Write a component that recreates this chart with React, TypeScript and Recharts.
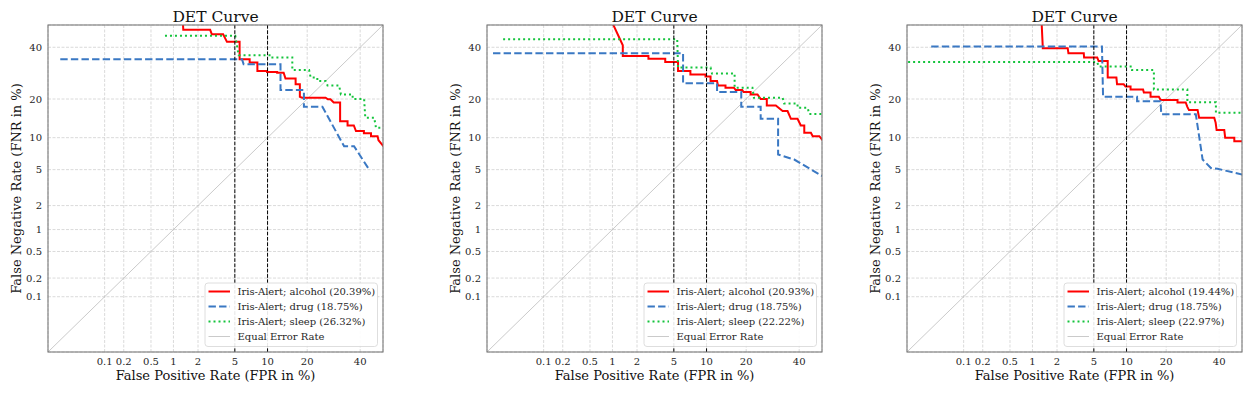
import { LineChart, Line, XAxis, YAxis, CartesianGrid, ReferenceLine } from 'recharts';

// percent values (probit axes)
const TICKS = [0.1, 0.2, 0.5, 1, 2, 5, 10, 20, 40];
const TICK_LABELS = ['0.1', '0.2', '0.5', '1', '2', '5', '10', '20', '40'];
const AXIS_RANGE = [0.01, 50];
const THRESHOLDS = [5, 10];

const SERIES_NAMES = ['Iris-Alert; alcohol', 'Iris-Alert; drug', 'Iris-Alert; sleep'];
const EER_ALCOHOL = [20.39, 20.93, 19.44];
const EER_DRUG = [18.75, 18.75, 18.75];
const EER_SLEEP = [26.32, 22.22, 22.97];

// [FPR %, FNR %]
const alcohol1: [number, number][] = [
  [1.3, 55], [1.33, 47.8], [2.75, 47.8], [2.87, 45.8], [3.8, 45.8], [4.16, 42.4], [5.57, 42.4],
  [5.57, 34.8], [6.94, 34.8], [6.94, 33.5], [8.16, 33.5], [8.16, 30.0], [9.9, 30.0], [9.9, 29.6],
  [12.0, 29.6], [12.0, 29.4], [13.5, 29.4], [13.95, 27.1], [16.6, 27.1], [16.6, 25.0], [17.8, 25.0],
  [17.8, 20.7], [18.5, 20.4], [26.2, 20.4], [27, 19.9], [28, 19.9], [29.2, 18.9], [31.7, 18.9],
  [31.7, 13.7], [34.7, 13.7], [34.7, 12.65], [37.3, 12.65], [38.2, 11.4], [41.6, 11.4], [41.6, 10.9],
  [44.7, 10.9], [44.7, 10.3], [47.6, 10.3], [48, 9.5], [50.6, 8.2],
];
const drug1: [number, number][] = [
  [0.017, 34.8], [5.88, 34.8], [6.09, 32.75], [12.76, 32.75], [12.76, 22.96], [19.0, 22.96],
  [19.0, 17.6], [25.06, 17.6], [33.3, 8.4], [37.4, 8.4], [43.9, 5.0],
];
const sleep1: [number, number][] = [
  [0.775, 45.1], [5.05, 45.1], [5.45, 36.5], [10.6, 36.5], [10.6, 35.6], [15.7, 35.6], [15.7, 30.4],
  [20.6, 30.4], [21.1, 27.5], [23.3, 27.5], [23.3, 26.2], [26.2, 26.2], [26.9, 24.6], [31.3, 24.6],
  [32.0, 21.5], [36.8, 21.5], [36.8, 20.0], [41.7, 20.0], [42.2, 14.6], [46.1, 14.6], [46.9, 12.1],
  [50, 12.1],
];

const alcohol2: [number, number][] = [
  [0.91, 54], [1.35, 40.9], [1.35, 36.2], [2.7, 36.2], [2.7, 35.1], [4.09, 35.1], [4.09, 33.7],
  [5.5, 33.7], [5.5, 30.0], [7.2, 30.0], [7.2, 28.7], [9.8, 28.7], [9.8, 27.9], [10.8, 27.9],
  [10.8, 26.2], [12.2, 26.2], [12.4, 24.6], [14.2, 24.6], [14.2, 23.8], [16.4, 23.8], [16.9, 22.96],
  [18.8, 22.96], [19.2, 22.3], [21.4, 22.3], [21.4, 21.5], [23.7, 21.5], [24.8, 20.0], [27.0, 20.0],
  [27.0, 18.0], [30.4, 18.0], [33.1, 16.4], [35.1, 16.4], [36.5, 14.3], [39.3, 14.3], [40.7, 12.65],
  [42.2, 12.65], [42.2, 11.0], [45.1, 11.0], [45.9, 10.3], [48.8, 10.3], [50.3, 9.5],
];
const drug2: [number, number][] = [
  [0.013, 37.4], [6.15, 37.4], [6.15, 25.35], [12.2, 25.35], [12.2, 22.3], [18.5, 22.3], [18.5, 17.6],
  [24.8, 17.6], [24.8, 14.3], [31.3, 14.3], [31.3, 7.03], [37.9, 6.3], [50.3, 4.26],
];
const sleep2: [number, number][] = [
  [0.02, 43.6], [5.4, 43.6], [5.5, 31.4], [10.8, 31.4], [11.1, 29.1], [16.6, 29.1], [16.6, 23.8],
  [22.0, 23.8], [22.5, 20.4], [33.1, 20.4], [33.7, 18.6], [39.3, 18.6], [39.3, 17.3], [43.7, 17.3],
  [44.3, 15.6], [50.3, 15.6],
];

const alcohol3: [number, number][] = [
  [1.29, 55], [1.35, 39.9], [1.35, 39.6], [2.65, 39.6], [2.7, 37.4], [3.95, 37.4], [3.98, 35.6],
  [5.4, 35.6], [5.57, 34.1], [6.8, 34.1], [6.8, 27.5], [8.16, 27.5], [8.27, 25.0], [9.46, 25.0],
  [9.8, 24.2], [10.8, 24.2], [10.8, 23.2], [13.6, 23.2], [13.8, 22.1], [15.5, 22.1], [15.5, 20.7],
  [17.8, 20.7], [18.3, 19.7], [23.7, 19.7], [23.7, 18.9], [26.6, 18.9], [27.2, 17.6], [27.8, 16.65],
  [31.1, 16.65], [31.7, 14.6], [37.9, 14.6], [38.5, 13.3], [38.9, 11.6], [42.2, 11.6], [42.6, 10.0],
  [46.6, 10.0], [46.6, 9.3], [50.3, 9.3],
];
const drug3: [number, number][] = [
  [0.028, 40.3], [6.0, 40.3], [6.15, 20.7], [12.2, 20.7], [12.2, 19.3], [18.3, 19.3], [18.5, 15.5],
  [30.4, 15.5], [33.1, 6.3], [36.5, 5.2], [39.3, 5.1], [50.3, 4.44],
];
const sleep3: [number, number][] = [
  [0.0105, 33.7], [5.4, 33.7], [5.57, 31.8], [11.1, 31.8], [11.1, 30.4], [16.4, 30.4], [16.4, 23.2],
  [27.2, 23.2], [27.2, 19.0], [38.6, 19.0], [38.6, 15.9], [50.3, 15.9],
];

const COLORS = ['#ff0000', '#3a78c3', '#14c43c'];
const DASHES = [undefined, '7.4 3.2', '2 3'];
const FONT = 'DejaVu Serif';

// inverse normal CDF (Acklam)
function probit(p: number): number {
  const a = [-39.69683028665376, 220.9460984245205, -275.9285104469687, 138.357751867269, -30.66479806614716, 2.506628277459239];
  const b = [-54.47609879822406, 161.5858368580409, -155.6989798598866, 66.80131188771972, -13.28068155288572];
  const c = [-0.007784894002430293, -0.3223964580411365, -2.400758277161838, -2.549732539343734, 4.374664141464968, 2.938163982698783];
  const d = [0.007784695709041462, 0.3224671290700398, 2.445134137142996, 3.754408661907416];
  const pl = 0.02425;
  if (p < pl) {
    const q = Math.sqrt(-2 * Math.log(p));
    return (((((c[0] * q + c[1]) * q + c[2]) * q + c[3]) * q + c[4]) * q + c[5]) / ((((d[0] * q + d[1]) * q + d[2]) * q + d[3]) * q + 1);
  }
  if (p <= 1 - pl) {
    const q = p - 0.5;
    const r = q * q;
    return ((((((a[0] * r + a[1]) * r + a[2]) * r + a[3]) * r + a[4]) * r + a[5]) * q) / (((((b[0] * r + b[1]) * r + b[2]) * r + b[3]) * r + b[4]) * r + 1);
  }
  const q = Math.sqrt(-2 * Math.log(1 - p));
  return -(((((c[0] * q + c[1]) * q + c[2]) * q + c[3]) * q + c[4]) * q + c[5]) / ((((d[0] * q + d[1]) * q + d[2]) * q + d[3]) * q + 1);
}

const toPts = (rows: [number, number][]) => rows.map(([fpr, fnr]) => ({ x: probit(fpr / 100), y: probit(fnr / 100) }));
const TICK_Z = TICKS.map((t) => probit(t / 100));
const LO = probit(AXIS_RANGE[0] / 100);
const HI = probit(AXIS_RANGE[1] / 100);

function fmtTick(v: number): string {
  let best = 0;
  TICK_Z.forEach((z, i) => {
    if (Math.abs(z - v) < Math.abs(TICK_Z[best] - v)) best = i;
  });
  return TICK_LABELS[best];
}

const PANELS = [
  { left: 48, series: [alcohol1, drug1, sleep1], eer: 0 },
  { left: 487, series: [alcohol2, drug2, sleep2], eer: 1 },
  { left: 907, series: [alcohol3, drug3, sleep3], eer: 2 },
];

const PLOT_W = 335;
const PLOT_TOP = 25;
const PLOT_H = 327;
const AXIS_W = 48;

const tickStyle = { fontSize: 10, fill: '#262626', fontFamily: FONT };

function DetPanel({ left, series }: { left: number; series: [number, number][][] }) {
  return (
    <div style={{ position: 'absolute', left: left - AXIS_W, top: 0 }}>
      <LineChart width={AXIS_W + PLOT_W + 10} height={396} margin={{ top: PLOT_TOP, right: 10, bottom: 14, left: 0 }}>
        <CartesianGrid stroke="#d0d0d0" strokeDasharray="3 1.5" strokeWidth={0.8} />
        <XAxis
          type="number"
          dataKey="x"
          domain={[LO, HI]}
          ticks={TICK_Z}
          interval={0}
          tickFormatter={fmtTick}
          allowDataOverflow
          axisLine={false}
          tickLine={false}
          tickSize={4}
          tickMargin={2}
          height={30}
          tick={tickStyle}
        />
        <YAxis
          type="number"
          dataKey="y"
          domain={[LO, HI]}
          ticks={TICK_Z}
          interval={0}
          tickFormatter={fmtTick}
          allowDataOverflow
          axisLine={false}
          tickLine={false}
          tickSize={4}
          tickMargin={2}
          width={AXIS_W}
          tick={tickStyle}
        />
        <Line
          data={toPts([[AXIS_RANGE[0], AXIS_RANGE[0]], [AXIS_RANGE[1], AXIS_RANGE[1]]])}
          dataKey="y"
          type="linear"
          stroke="#bdbdbd"
          strokeWidth={0.8}
          dot={false}
          activeDot={false}
          isAnimationActive={false}
        />
        {series.map((rows, i) => (
          <Line
            key={i}
            data={toPts(rows)}
            dataKey="y"
            type="linear"
            stroke={COLORS[i]}
            strokeWidth={2}
            strokeDasharray={DASHES[i]}
            dot={false}
            activeDot={false}
            isAnimationActive={false}
          />
        ))}
        {THRESHOLDS.map((t) => (
          <ReferenceLine key={t} x={probit(t / 100)} stroke="#000" strokeWidth={1} strokeDasharray="3.7 1.6" />
        ))}
      </LineChart>
    </div>
  );
}

function Overlay() {
  return (
    <svg width={1256} height={396} style={{ position: 'absolute', left: 0, top: 0, pointerEvents: 'none' }} fontFamily={FONT}>
      {PANELS.map((p, pi) => {
        const cx = p.left + PLOT_W / 2;
        const eers = [EER_ALCOHOL[p.eer], EER_DRUG[p.eer], EER_SLEEP[p.eer]];
        const lx = p.left + 157;
        const ly = 283;
        return (
          <g key={pi}>
            <rect x={p.left} y={PLOT_TOP} width={PLOT_W} height={PLOT_H} fill="none" stroke="#7a7a7a" strokeWidth={1.1} />
            <text x={cx} y={22} textAnchor="middle" fontSize={15.5} fill="#111">DET Curve</text>
            <text x={cx} y={380} textAnchor="middle" fontSize={13} fill="#111">False Positive Rate (FPR in %)</text>
            <text
              x={p.left - 27}
              y={PLOT_TOP + PLOT_H / 2}
              transform={`rotate(-90 ${p.left - 27} ${PLOT_TOP + PLOT_H / 2})`}
              textAnchor="middle"
              fontSize={13}
              fill="#111"
            >
              False Negative Rate (FNR in %)
            </text>
            <rect x={lx} y={ly} width={172.5} height={63.5} rx={3} fill="#fff" fillOpacity={0.9} stroke="#d6d6d6" strokeWidth={0.8} />
            {SERIES_NAMES.map((name, i) => (
              <g key={name}>
                <line x1={lx + 3.5} x2={lx + 25} y1={ly + 8.5 + i * 15} y2={ly + 8.5 + i * 15} stroke={COLORS[i]} strokeWidth={2} strokeDasharray={DASHES[i]} />
                <text x={lx + 32.5} y={ly + 12 + i * 15} fontSize={10} fill="#262626">{`${name} (${eers[i].toFixed(2)}%)`}</text>
              </g>
            ))}
            <line x1={lx + 3.5} x2={lx + 25} y1={ly + 53.5} y2={ly + 53.5} stroke="#bdbdbd" strokeWidth={0.8} />
            <text x={lx + 32.5} y={ly + 57} fontSize={10} fill="#262626">Equal Error Rate</text>
          </g>
        );
      })}
    </svg>
  );
}

export default function App() {
  return (
    <div style={{ position: 'absolute', left: 0, top: 0, width: 1256, height: 396, background: '#fff' }}>
      {PANELS.map((p, i) => (
        <DetPanel key={i} left={p.left} series={p.series} />
      ))}
      <Overlay />
    </div>
  );
}
